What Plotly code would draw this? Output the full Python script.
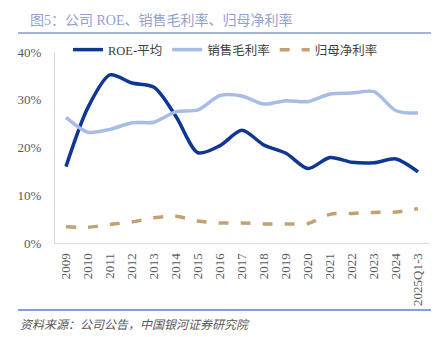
import plotly.graph_objects as go

categories = ["2009", "2010", "2011", "2012", "2013", "2014", "2015", "2016", "2017",
              "2018", "2019", "2020", "2021", "2022", "2023", "2024", "2025Q1-3"]
roe = [16.0, 28.4, 35.2, 33.5, 32.6, 26.5, 18.9, 20.4, 23.6, 20.5, 18.8, 15.6, 17.9, 16.9, 16.8, 17.6, 14.9]
gross_margin = [26.3, 23.2, 23.8, 25.2, 25.3, 27.5, 27.9, 30.9, 30.8, 29.1, 29.8, 29.6, 31.2, 31.4, 31.7, 27.7, 27.2]
net_margin = [3.4, 3.3, 3.9, 4.4, 5.3, 5.6, 4.6, 4.2, 4.2, 4.0, 4.0, 4.1, 6.0, 6.2, 6.4, 6.5, 7.2]
yticks = [0, 10, 20, 30, 40]
ytick_labels = ["0%", "10%", "20%", "30%", "40%"]

serif = "Liberation Serif, Noto Sans CJK SC, serif"

fig = go.Figure()
fig.add_trace(go.Scatter(x=categories, y=roe, name="ROE-平均", mode="lines",
                         line=dict(color="#0E3793", width=3.5, shape="spline", smoothing=0.8)))
fig.add_trace(go.Scatter(x=categories, y=gross_margin, name="销售毛利率", mode="lines",
                         line=dict(color="#A8BDE6", width=3.5, shape="spline", smoothing=0.8)))
fig.add_trace(go.Scatter(x=categories, y=net_margin, name="归母净利率", mode="lines",
                         line=dict(color="#C3A171", width=3.5, shape="spline", smoothing=0.8,
                                   dash="10px,12px")))

W, H = 441, 337
L, R, T, B = 55, 12, 52, 94
fig.update_layout(
    width=W, height=H,
    margin=dict(l=L, r=R, t=T, b=B),
    paper_bgcolor="white", plot_bgcolor="white",
    font=dict(family=serif, size=12, color="#595959"),
    showlegend=True,
    legend=dict(orientation="h", x=(68 - L) / (W - L - R), xanchor="left",
                y=1.0 + 2 / (H - T - B), yanchor="middle",
                font=dict(family=serif, size=12.5, color="#404040"),
                bgcolor="rgba(0,0,0,0)", itemwidth=30, tracegroupgap=0),
    xaxis=dict(type="category", tickangle=-90, showline=True, linecolor="#D9D9D9", linewidth=1,
               showgrid=False, ticks="", tickfont=dict(family=serif, size=13, color="#595959"),
               ticklabelstandoff=4,
               range=[-0.5, len(categories) - 0.5]),
    yaxis=dict(range=[0, 40], tickvals=yticks, ticktext=ytick_labels, showline=True,
               linecolor="#D9D9D9", linewidth=1, showgrid=False, zeroline=False, ticks="",
               ticklabelstandoff=10,
               tickfont=dict(family=serif, size=13, color="#595959")),
)

fig.add_annotation(text="图5：公司 ROE、销售毛利率、归母净利率", xref="paper", yref="paper",
                   x=(28 - L) / (W - L - R), y=1 + (T - 20) / (H - T - B), xanchor="left", yanchor="middle",
                   showarrow=False, font=dict(family=serif, size=14, color="#8FA2CE"))
fig.add_shape(type="line", xref="paper", yref="paper",
              x0=(18 - L) / (W - L - R), x1=(431 - L) / (W - L - R),
              y0=1 + (T - 33) / (H - T - B), y1=1 + (T - 33) / (H - T - B),
              line=dict(color="#A3B4DA", width=2))
fig.add_shape(type="line", xref="paper", yref="paper",
              x0=(18 - L) / (W - L - R), x1=(431 - L) / (W - L - R),
              y0=-(310 - (H - B)) / (H - T - B), y1=-(310 - (H - B)) / (H - T - B),
              line=dict(color="#5C7FC8", width=1.5))
fig.add_annotation(text="<i>资料来源：公司公告，中国银河证券研究院</i>", xref="paper", yref="paper",
                   x=(18 - L) / (W - L - R), y=-(325 - (H - B)) / (H - T - B), xanchor="left", yanchor="middle",
                   showarrow=False, font=dict(family=serif, size=12, color="#595959"))

fig.write_html("out.html")
